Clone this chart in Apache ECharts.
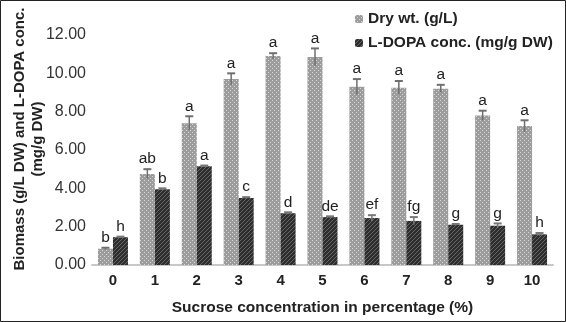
<!DOCTYPE html>
<html><head><meta charset="utf-8">
<script src="https://cdn.jsdelivr.net/npm/echarts@6.0.0/dist/echarts.min.js"></script>
<style>html,body{margin:0;padding:0;background:#fff}#c{width:566px;height:322px}</style>
</head><body><div id="c"></div>
<script>
const categories = ['0','1','2','3','4','5','6','7','8','9','10'];
const dryWt = [0.85, 4.75, 7.4, 9.7, 10.9, 10.85, 9.3, 9.25, 9.2, 7.8, 7.25];
const dryErr = [0.05, 0.25, 0.36, 0.3, 0.15, 0.45, 0.4, 0.35, 0.2, 0.25, 0.3];
const dryLetters = ['b','ab','a','a','a','a','a','a','a','a','a'];
const ldopa = [1.45, 3.95, 5.15, 3.5, 2.7, 2.5, 2.45, 2.3, 2.1, 2.05, 1.6];
const ldopaErr = [0.03, 0.05, 0.04, 0.04, 0.05, 0.04, 0.15, 0.2, 0.04, 0.12, 0.07];
const ldopaLetters = ['h','b','a','c','d','de','ef','fg','g','g','h'];
const seriesNames = ['Dry wt. (g/L)', 'L-DOPA conc. (mg/g DW)'];
const yTitle = ['Biomass (g/L DW) and L-DOPA conc.', '(mg/g DW)'];
const xTitle = 'Sucrose concentration in percentage (%)';

function makePattern(bg, fg, dots) {
  const c = document.createElement('canvas');
  c.width = 4; c.height = 4;
  const g = c.getContext('2d');
  g.fillStyle = bg; g.fillRect(0, 0, 4, 4);
  g.fillStyle = fg;
  dots.forEach(d => g.fillRect(d[0], d[1], 1, 1));
  return c;
}
const dryPat = makePattern('#9c9c9c', '#d8d8d8', [[0,0],[2,2]]);
const ldPat = makePattern('#2e2e2e', '#666666', [[0,0],[2,2],[1,3],[3,1]]);

const FONT = '"Liberation Sans", Arial, sans-serif';

function errSeries(name, vals, errs, letters, offset, color) {
  return {
    type: 'custom', name: name + ' err', z: 5,
    data: vals.map((v, i) => [i, v, errs[i]]),
    renderItem(params, api) {
      const i = api.value(0), v = api.value(1), e = api.value(2);
      const top = api.coord([i, v + e]);
      const bot = api.coord([i, v - e]);
      const x = top[0] + offset;
      return { type: 'group', children: [
        { type: 'line', shape: { x1: x, y1: top[1], x2: x, y2: bot[1] }, style: { stroke: color, lineWidth: 1.5 } },
        { type: 'line', shape: { x1: x - 4, y1: top[1], x2: x + 4, y2: top[1] }, style: { stroke: color, lineWidth: 2 } },
        { type: 'text', x: x, y: top[1] - 2, style: { text: letters[i], align: 'center', verticalAlign: 'bottom', textAlign: 'center', textVerticalAlign: 'bottom', font: '15.5px ' + FONT, fill: '#222' } }
      ]};
    }
  };
}

const chart = echarts.init(document.getElementById('c'), null, { renderer: 'canvas' });
chart.setOption({
  animation: false,
  backgroundColor: '#fff',
  textStyle: { fontFamily: FONT },
  legend: {
    data: seriesNames, orient: 'vertical', left: 350, top: 6,
    itemWidth: 8, itemHeight: 8, itemGap: 8,
    textStyle: { fontSize: 15.5, fontWeight: 'bold', color: '#222', fontFamily: FONT }
  },
  grid: { left: 92, right: 13, top: 35, bottom: 57, containLabel: false },
  xAxis: {
    type: 'category', data: categories,
    name: xTitle, nameLocation: 'middle', nameGap: 35,
    nameTextStyle: { fontSize: 15.5, fontWeight: 'bold', color: '#222' },
    axisLine: { lineStyle: { color: '#c8c8c8', width: 2 } },
    axisTick: { show: false },
    axisLabel: { fontSize: 15, fontWeight: 'bold', color: '#222', margin: 8 }
  },
  yAxis: {
    type: 'value', min: 0, max: 12, interval: 2,
    axisLine: { show: false }, axisTick: { show: false }, splitLine: { show: false },
    axisLabel: { fontSize: 16, color: '#333', margin: 6, formatter: v => v.toFixed(2) }
  },
  graphic: [
    { type: 'rect', shape: { x: 0.5, y: 0.5, width: 565, height: 321 }, style: { fill: 'none', stroke: '#222', lineWidth: 1 } },
    { type: 'text', x: 29, y: 139, rotation: Math.PI / 2,
      style: { text: yTitle.join('\n'), align: 'center', verticalAlign: 'middle', textAlign: 'center', textVerticalAlign: 'middle', font: 'bold 15px ' + FONT, lineHeight: 18, fill: '#222' } }
  ],
  series: [
    { type: 'bar', name: seriesNames[0], data: dryWt, barWidth: 15, barGap: '0%',
      itemStyle: { color: { image: dryPat, repeat: 'repeat' } } },
    { type: 'bar', name: seriesNames[1], data: ldopa, barWidth: 15, barGap: '0%',
      itemStyle: { color: { image: ldPat, repeat: 'repeat' } } },
    errSeries(seriesNames[0], dryWt, dryErr, dryLetters, -7.5, '#6f6f6f'),
    errSeries(seriesNames[1], ldopa, ldopaErr, ldopaLetters, 7.5, '#777777')
  ]
});
</script></body></html>
